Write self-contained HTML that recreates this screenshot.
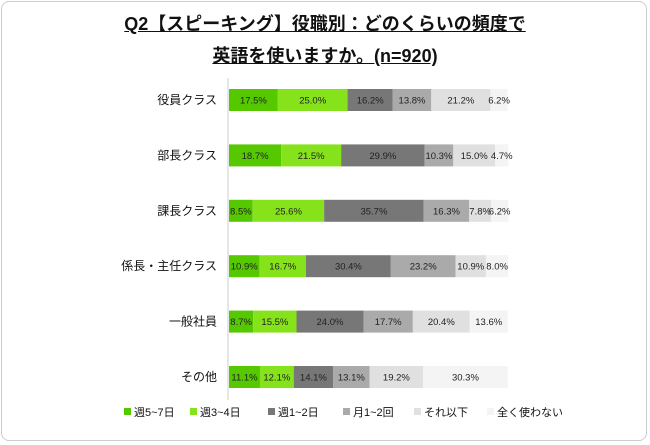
<!DOCTYPE html>
<html><head><meta charset="utf-8"><style>
body{margin:0;width:650px;height:445px;background:#fff;font-family:"Liberation Sans","Noto Sans CJK JP",sans-serif;overflow:hidden}
#frame{position:absolute;left:1px;top:1px;width:646px;height:440px;border:1px solid #ccc;border-radius:8px;box-sizing:border-box}
#title{position:absolute;left:0;width:650px;top:8px;text-align:center;font-weight:bold;font-size:18px;line-height:32px;color:#111}
#title span{text-decoration:underline}
</style></head><body>
<div id="frame"></div>
<div id="title"><span>Q2【スピーキング】役職別：どのくらいの頻度で</span><br><span>英語を使いますか。(n=920)</span></div>
<svg id="chart" width="650" height="445" style="position:absolute;left:0;top:0"></svg>
<script>
const categories=["役員クラス","部長クラス","課長クラス","係長・主任クラス","一般社員","その他"];
const seriesNames=["週5~7日","週3~4日","週1~2日","月1~2回","それ以下","全く使わない"];
const s1=[17.5,18.7,8.5,10.9,8.7,11.1];
const s2=[25.0,21.5,25.6,16.7,15.5,12.1];
const s3=[16.2,29.9,35.7,30.4,24.0,14.1];
const s4=[13.8,10.3,16.3,23.2,17.7,13.1];
const s5=[21.2,15.0,7.8,10.9,20.4,19.2];
const s6=[6.2,4.7,6.2,8.0,13.6,30.3];
const series=[s1,s2,s3,s4,s5,s6];
const colors=["#55c800","#86e21a","#777777","#aaaaaa","#e0e0e0","#f4f4f4"];
const NS="http://www.w3.org/2000/svg";
const svg=document.getElementById('chart');
const x0=229,W=279;
const xs=v=>v/100*W;
const ys=i=>100+i*55.4;
const bh=22;
function mk(t,a){const e=document.createElementNS(NS,t);for(const k in a)e.setAttribute(k,a[k]);svg.appendChild(e);return e;}
const ax=mk('line',{x1:228,x2:228,y1:78,y2:400,stroke:'#ccc','stroke-width':1});


categories.forEach((c,i)=>{
  const t=mk('text',{x:217,y:ys(i)+4,'text-anchor':'end','font-size':12,fill:'#111'});
  t.textContent=c;
  
  
  let acc=0;
  series.forEach((s,j)=>{
    const v=s[i];
    const r=mk('rect',{x:x0+xs(acc),y:ys(i)-bh/2,width:xs(v),height:bh,fill:colors[j]});
    
    
    const l=mk('text',{x:x0+xs(acc+v/2),y:ys(i)+3.5,'text-anchor':'middle','font-size':9.5,fill:'#222'});
    l.textContent=v.toFixed(1)+'%';
    
    
    acc+=v;
  });
});
const lx=[124,190,268,343,414,487];
seriesNames.forEach((n,j)=>{
  const r=mk('rect',{x:lx[j],y:408,width:7,height:7,fill:colors[j]});
  
  
  const t=mk('text',{x:lx[j]+10,y:416,'font-size':11,fill:'#111'});
  t.textContent=n;
  
  
});
</script>
</body></html>
